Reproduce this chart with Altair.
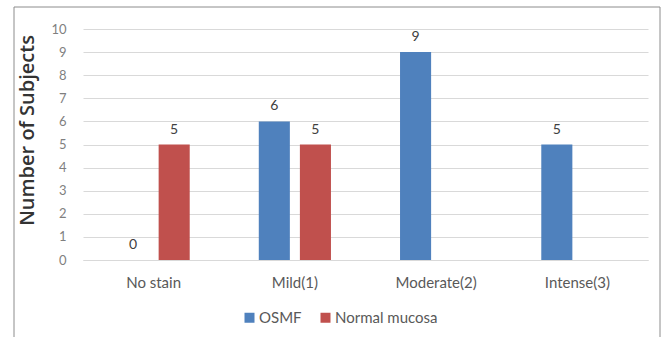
import altair as alt
import pandas as pd

categories = ["No stain", "Mild(1)", "Moderate(2)", "Intense(3)"]
series = ["OSMF", "Normal mucosa"]
osmf = [0, 6, 9, 5]
normal = [5, 5, None, None]
y_ticks = [0, 1, 2, 3, 4, 5, 6, 7, 8, 9, 10]

rows = []
for c, v in zip(categories, osmf):
    rows.append({"cat": c, "series": "OSMF", "value": v})
for c, v in zip(categories, normal):
    rows.append({"cat": c, "series": "Normal mucosa", "value": v})
df = pd.DataFrame(rows)

W, H = 565, 231
FONT = "Lato"

x_enc = alt.X("cat:N", sort=categories,
              scale=alt.Scale(paddingInner=0, paddingOuter=0),
              axis=alt.Axis(title=None, labelAngle=0, ticks=False, domain=True,
                            domainColor="#d9d9d9", labelColor="#595959",
                            labelFontSize=15, labelFont=FONT, labelPadding=15))
xo = alt.XOffset("series:N", sort=series,
                 scale=alt.Scale(domain=series, paddingInner=0.244, paddingOuter=0.84))
y_enc = alt.Y("value:Q", scale=alt.Scale(domain=[0, 10], nice=False),
              axis=alt.Axis(values=y_ticks, labelOverlap=False,
                            title="Number of Subjects",
                            titleFont="Open Sans", titleFontSize=20, titleFontWeight=600,
                            titleColor="#333333", titleX=-46, titleY=101, titleAngle=-90,
                            ticks=False, domain=False, gridColor="#d9d9d9",
                            labelColor="#7f7f7f", labelFont=FONT, labelFontSize=13,
                            labelPadding=17))

color = alt.Color("series:N", sort=series,
                  scale=alt.Scale(domain=series, range=["#4F81BD", "#C0504D"]),
                  legend=alt.Legend(title=None, orient="none", direction="horizontal",
                                    legendX=159, legendY=281, symbolType="square",
                                    symbolSize=100, symbolStrokeWidth=0,
                                    labelFont=FONT, labelFontSize=15, labelOffset=2,
                                    labelColor="#595959", columnPadding=16,
                                    symbolOpacity=1))

bars = alt.Chart(df).mark_bar(stroke=None).encode(
    x=x_enc, xOffset=xo, y=y_enc, color=color
).transform_filter("datum.value != null")

labels = alt.Chart(df).mark_text(baseline="bottom", dy=-8, font=FONT, fontSize=14,
                                  color="#404040").encode(
    x=x_enc, xOffset=xo, y=y_enc, text="value:Q"
).transform_filter("datum.value != null")

border = alt.Chart(pd.DataFrame({"a": [0]})).mark_rect(
    fill=None, stroke="#8c8c8c", strokeWidth=1
).encode(x=alt.value(-69), x2=alt.value(577), y=alt.value(-22), y2=alt.value(330))

chart = alt.layer(border, bars, labels).properties(
    width=W, height=H,
    autosize=alt.AutoSizeParams(type="none"),
    padding={"left": 83, "top": 29, "right": 13, "bottom": 77},
    background="white"
).configure_view(stroke=None)

chart.save("out.html", embed_options={"renderer": "svg", "actions": False})
